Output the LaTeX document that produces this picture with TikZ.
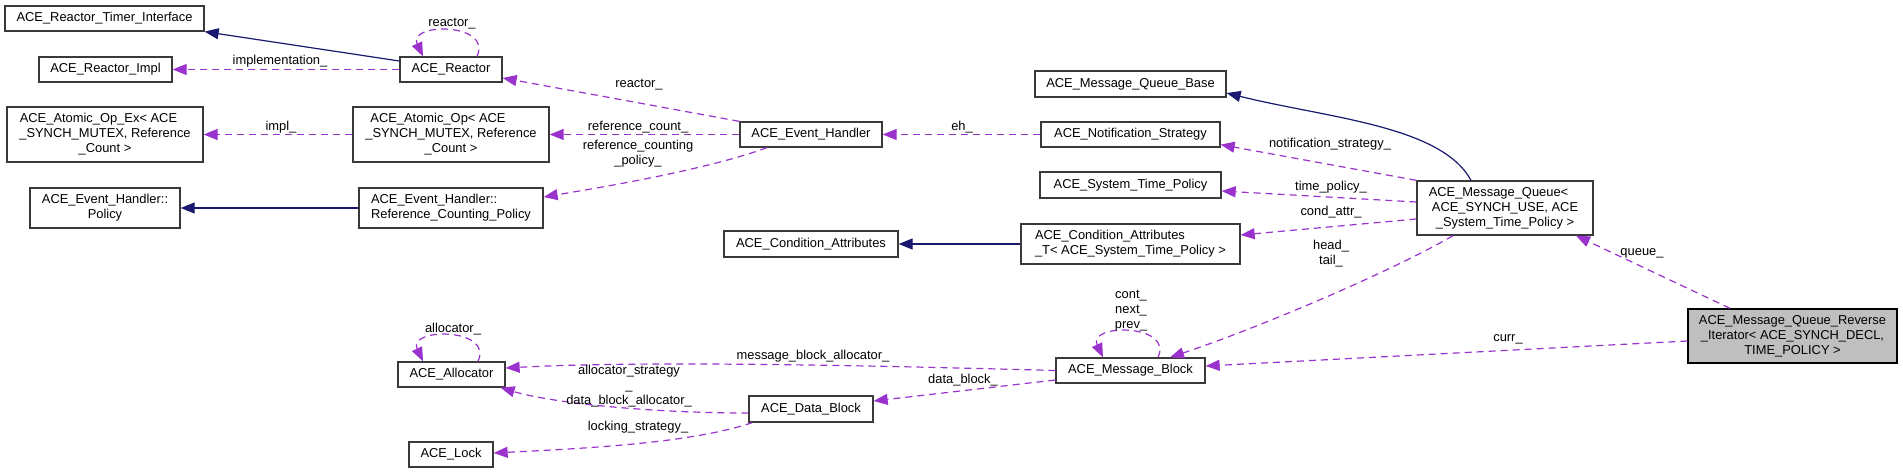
\documentclass[tikz,border=0pt]{standalone}
\usepackage{fontspec}
\setmainfont{Liberation Sans}
\usetikzlibrary{arrows.meta}
\definecolor{edgepurple}{HTML}{9A32CD}
\definecolor{inhblue}{HTML}{191970}
\definecolor{boxgray}{HTML}{3A3A3A}
\definecolor{focusfill}{HTML}{BFBFBF}
\begin{document}
\begin{tikzpicture}[x=1pt,y=-1pt,
  cls/.style={draw=boxgray, line width=1.3pt, fill=white, inner sep=0pt, font=\fontsize{12.9}{15}\selectfont, align=center},
  focus/.style={cls, draw=black, fill=focusfill},
  usage/.style={draw=edgepurple, line width=1.2pt, dash pattern=on 7pt off 5pt, -{Triangle[length=14pt,width=11pt]}},
  inh/.style={draw=inhblue, line width=1.2pt, -{Triangle[length=14pt,width=11pt]}},
  lbl/.style={font=\fontsize{12.9}{15}\selectfont, align=center, inner sep=0pt}
]
\fill[white] (0,0) rectangle (1903,473);
\useasboundingbox (0,0) rectangle (1903,473);

% classes
\node[cls, minimum width=199pt, minimum height=25pt] (TI) at (104.5,18.5) {ACE\_Reactor\_Timer\_Interface};
\node[cls, minimum width=133pt, minimum height=25pt] (RI) at (105.5,69.5) {ACE\_Reactor\_Impl};
\node[cls, minimum width=102pt, minimum height=25pt] (R) at (451,69.5) {ACE\_Reactor};
\node[cls, minimum width=196pt, minimum height=55pt] (AOE) at (105,134.5) {ACE\_Atomic\_Op\_Ex< ACE\hspace*{13pt}\\\_SYNCH\_MUTEX, Reference\\\_Count >};
\node[cls, minimum width=150pt, minimum height=40pt] (POL) at (105,208) {ACE\_Event\_Handler::\\Policy};
\node[cls, minimum width=196pt, minimum height=55pt] (AO) at (451,134.5) {ACE\_Atomic\_Op< ACE\hspace*{26pt}\\\_SYNCH\_MUTEX, Reference\\\_Count >};
\node[cls, align=left, minimum width=184pt, minimum height=40pt] (RCP) at (451,208) {ACE\_Event\_Handler::\\Reference\_Counting\_Policy};
\node[cls, minimum width=107pt, minimum height=25pt] (ALL) at (451.5,374.5) {ACE\_Allocator};
\node[cls, minimum width=84pt, minimum height=25pt] (LCK) at (451,454.5) {ACE\_Lock};
\node[cls, minimum width=142pt, minimum height=25pt] (EH) at (811,134.5) {ACE\_Event\_Handler};
\node[cls, minimum width=174pt, minimum height=26pt] (CA) at (811,244) {ACE\_Condition\_Attributes};
\node[cls, minimum width=124pt, minimum height=26pt] (DB) at (811,409) {ACE\_Data\_Block};
\node[cls, minimum width=191pt, minimum height=26pt] (MQB) at (1130.5,84) {ACE\_Message\_Queue\_Base};
\node[cls, minimum width=179pt, minimum height=25pt] (NS) at (1130.5,134.5) {ACE\_Notification\_Strategy};
\node[cls, minimum width=181pt, minimum height=26pt] (STP) at (1130.5,185) {ACE\_System\_Time\_Policy};
\node[cls, align=left, minimum width=219pt, minimum height=40pt] (CAT) at (1130.5,244) {ACE\_Condition\_Attributes\\\_T< ACE\_System\_Time\_Policy >};
\node[cls, minimum width=149pt, minimum height=25pt] (MB) at (1130.5,370.5) {ACE\_Message\_Block};
\node[cls, minimum width=176pt, minimum height=54pt] (MQ) at (1505,208) {ACE\_Message\_Queue<\hspace*{13pt}\\ACE\_SYNCH\_USE, ACE\\\_System\_Time\_Policy >};
\node[focus, minimum width=209pt, minimum height=54pt] (RIT) at (1792.5,336) {ACE\_Message\_Queue\_Reverse\\\_Iterator< ACE\_SYNCH\_DECL,\\TIME\_POLICY >};

% connectors
\draw[inh] ([yshift=8.5pt]R.west) -- (TI.south east);
\draw[usage] ([xshift=26pt]R.north) .. controls +(16,-34) and +(-16,-34) .. ([xshift=-28pt]R.north);
\draw[usage] (R.west) -- (RI.east);
\draw[usage] (AO.west) -- (AOE.east);
\draw[inh] (RCP.west) -- (POL.east);
\draw[usage] (EH.north west) -- ([yshift=-8.5pt]R.east);
\draw[usage] (EH.west) -- (AO.east);
\draw[usage] ([xshift=-44pt]EH.south) .. controls +(-60,22) and +(60,-10) .. ([yshift=11pt]RCP.east);
\draw[usage] (NS.west) -- (EH.east);
\draw[inh] ([xshift=-34pt]MQ.north) .. controls +(-30,-55) and +(100,25) .. ([yshift=-9pt]MQB.east);
\draw[usage] (MQ.north west) -- ([yshift=3pt]NS.south east);
\draw[usage] ([yshift=6pt]MQ.west) -- ([yshift=-6pt]STP.east);
\draw[usage] ([yshift=-11pt]MQ.west) -- ([yshift=9pt]CAT.east);
\draw[inh] (CAT.west) -- (CA.east);
\draw[usage] ([xshift=-52pt]MQ.south) .. controls +(-60,35) and +(90,-30) .. ([xshift=39.5pt]MB.north);
\draw[usage] ([xshift=27.5pt]MB.north) .. controls +(16,-34) and +(-16,-34) .. ([xshift=-27.5pt]MB.north);
\draw[usage] ([xshift=-62.5pt]RIT.north) -- ([xshift=71pt]MQ.south);
\draw[usage] ([yshift=-5pt]RIT.west) -- ([yshift=4.5pt]MB.east);
\draw[usage] (MB.west) .. controls +(-150,-4) and +(150,-8) .. ([yshift=6.5pt]ALL.east);
\draw[usage] ([yshift=-9.5pt]MB.west) -- ([yshift=8pt]DB.east);
\draw[usage] ([yshift=-4pt]DB.west) .. controls +(-100,0) and +(50,15) .. ([xshift=-5pt]ALL.south east);
\draw[usage] ([xshift=4pt]DB.south west) .. controls +(-60,20) and +(100,-5) .. ([yshift=1.5pt]LCK.east);
\draw[usage] ([xshift=26.5pt]ALL.north) .. controls +(16,-34) and +(-16,-34) .. ([xshift=-28.5pt]ALL.north);

% labels
\node[lbl] (L1) at (452,24) {reactor\_};
\node[lbl] (L2) at (280,61) {implementation\_};
\node[lbl] (L3) at (281,127) {impl\_};
\node[lbl] (L4) at (639,85) {reactor\_};
\node[lbl] (L5) at (638,127) {reference\_count\_};
\node[lbl] (L6) at (638,154) {reference\_counting\\\_policy\_};
\node[lbl] (L7) at (962,127) {eh\_};
\node[lbl] (L8) at (1330,144) {notification\_strategy\_};
\node[lbl] (L9) at (1331,187) {time\_policy\_};
\node[lbl] (L10) at (1331,212) {cond\_attr\_};
\node[lbl] (L11) at (1331,254) {head\_\\tail\_};
\node[lbl] (L12) at (1131,311) {cont\_\\next\_\\prev\_};
\node[lbl] (L13) at (1642,253) {queue\_};
\node[lbl] (L14) at (1508,339) {curr\_};
\node[lbl] (L15) at (813,356) {message\_block\_allocator\_};
\node[lbl] (L16) at (963,380) {data\_block\_};
\node[lbl] (L17) at (629,386) {allocator\_strategy\\\_\\data\_block\_allocator\_};
\node[lbl] (L18) at (638,427) {locking\_strategy\_};
\node[lbl] (L19) at (453,329) {allocator\_};
\end{tikzpicture}
\end{document}
